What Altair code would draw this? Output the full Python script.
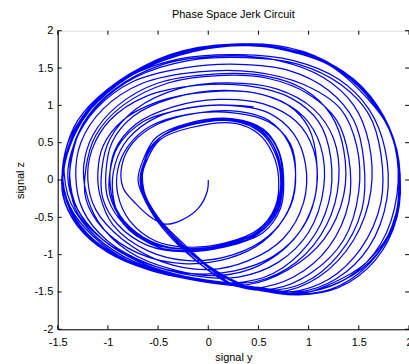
import altair as alt
import pandas as pd

# trajectory of the jerk circuit as (signal y, signal z)
start = [(0.0, 0.0), (-0.01, -0.15), (-0.1, -0.38), (-0.27, -0.54), (-0.43, -0.59),
         (-0.56, -0.51), (-0.72, -0.32), (-0.85, -0.1)]
loop_a = [(-0.86, 0.2), (-0.75, 0.5), (-0.5, 0.75), (-0.1, 0.9), (0.3, 0.92), (0.6, 0.8),
          (0.8, 0.5), (0.87, 0.1), (0.82, -0.35), (0.6, -0.75), (0.25, -1.0), (-0.2, -1.08),
          (-0.6, -0.95), (-0.95, -0.6), (-1.08, -0.2)]
loop_b = [(-1.1, 0.1), (-1.05, 0.45), (-0.85, 0.8), (-0.5, 1.05), (0.0, 1.18), (0.45, 1.17),
          (0.8, 1.0), (1.0, 0.7), (1.08, 0.25), (1.05, -0.3), (0.85, -0.8), (0.5, -1.15),
          (0.1, -1.28), (-0.35, -1.2), (-0.8, -0.95), (-1.1, -0.55), (-1.22, -0.15)]
loop_c = [(-1.24, 0.2), (-1.15, 0.6), (-0.9, 1.0), (-0.5, 1.3), (0.05, 1.42), (0.55, 1.4),
          (0.95, 1.22), (1.22, 0.88), (1.35, 0.4), (1.35, -0.2), (1.15, -0.8), (0.8, -1.2),
          (0.4, -1.4), (-0.1, -1.33), (-0.6, -1.15), (-1.0, -0.85), (-1.3, -0.45), (-1.38, -0.05)]
loop_d = [(-1.36, 0.3), (-1.25, 0.75), (-0.95, 1.2), (-0.45, 1.55), (0.15, 1.66), (0.7, 1.6),
          (1.15, 1.37), (1.45, 1.0), (1.6, 0.5), (1.62, -0.15), (1.45, -0.8), (1.1, -1.3),
          (0.7, -1.5), (0.3, -1.42), (-0.1, -1.35), (-0.6, -1.2), (-1.0, -0.95), (-1.3, -0.6),
          (-1.44, -0.15)]
loop_e = [(-1.45, 0.0), (-1.38, 0.45), (-1.2, 0.9), (-0.87, 1.33), (-0.38, 1.68), (0.25, 1.82),
          (0.69, 1.76), (1.19, 1.55), (1.58, 1.1), (1.81, 0.67), (1.91, 0.08), (1.85, -0.58),
          (1.58, -1.1), (1.19, -1.41), (0.89, -1.53), (0.52, -1.45), (0.2, -1.37), (-0.1, -1.1),
          (-0.4, -0.7), (-0.6, -0.35), (-0.68, 0.0)]
loop_f = [(-0.62, 0.3), (-0.5, 0.55), (-0.22, 0.72), (0.25, 0.79), (0.52, 0.64), (0.66, 0.38),
          (0.72, 0.05), (0.69, -0.36), (0.52, -0.67), (0.2, -0.85), (-0.2, -0.93), (-0.55, -0.85),
          (-0.85, -0.55), (-0.98, -0.2), (-0.98, 0.1)]
loop_g = [(-0.9, 0.45), (-0.65, 0.78), (-0.25, 0.95), (0.2, 1.0), (0.6, 0.9), (0.85, 0.62),
          (0.97, 0.2), (0.95, -0.3), (0.75, -0.78), (0.4, -1.08), (0.0, -1.2), (-0.45, -1.1),
          (-0.85, -0.8), (-1.12, -0.4), (-1.2, 0.0)]
loop_h = [(-1.16, 0.4), (-0.98, 0.8), (-0.62, 1.12), (-0.1, 1.27), (0.4, 1.26), (0.82, 1.1),
          (1.1, 0.78), (1.22, 0.3), (1.2, -0.3), (1.0, -0.85), (0.65, -1.25), (0.25, -1.38),
          (-0.2, -1.3), (-0.65, -1.12), (-1.05, -0.8), (-1.32, -0.35), (-1.4, 0.05)]
loop_i = [(-1.33, 0.5), (-1.12, 0.95), (-0.75, 1.32), (-0.25, 1.5), (0.3, 1.55), (0.8, 1.47),
          (1.2, 1.2), (1.45, 0.8), (1.55, 0.25), (1.53, -0.4), (1.3, -1.0), (0.95, -1.38),
          (0.55, -1.48), (0.2, -1.38), (-0.15, -1.05), (-0.45, -0.65), (-0.62, -0.3), (-0.7, 0.0)]
loop_j = [(-0.64, 0.3), (-0.52, 0.57), (-0.2, 0.76), (0.25, 0.82), (0.55, 0.68), (0.7, 0.4),
          (0.75, 0.05), (0.72, -0.38), (0.55, -0.7), (0.22, -0.88), (-0.15, -0.95), (-0.5, -0.9),
          (-0.82, -0.62), (-1.0, -0.25), (-1.02, 0.1)]
loop_k = [(-0.96, 0.5), (-0.75, 0.85), (-0.35, 1.1), (0.15, 1.2), (0.6, 1.12), (0.95, 0.85),
          (1.12, 0.45), (1.15, -0.1), (1.0, -0.7), (0.7, -1.1), (0.3, -1.3), (-0.15, -1.28),
          (-0.6, -1.12), (-1.0, -0.82), (-1.25, -0.4), (-1.32, 0.05)]
loop_l = [(-1.27, 0.5), (-1.05, 0.95), (-0.65, 1.3), (-0.1, 1.45), (0.45, 1.45), (0.95, 1.28),
          (1.32, 0.95), (1.48, 0.45), (1.5, -0.15), (1.35, -0.8), (1.02, -1.25), (0.65, -1.46),
          (0.3, -1.42), (-0.1, -1.35), (-0.6, -1.2), (-1.0, -0.97), (-1.3, -0.62), (-1.45, -0.2)]
loop_m = [(-1.44, 0.2), (-1.33, 0.65), (-1.1, 1.05), (-0.7, 1.45), (-0.15, 1.72), (0.4, 1.8),
          (0.9, 1.7), (1.35, 1.43), (1.68, 0.98), (1.86, 0.45), (1.88, -0.2), (1.72, -0.85),
          (1.4, -1.3), (1.0, -1.5), (0.6, -1.47), (0.25, -1.4), (-0.05, -1.12), (-0.38, -0.72),
          (-0.58, -0.38), (-0.67, -0.02)]
loop_n = [(-0.6, 0.3), (-0.48, 0.54), (-0.18, 0.7), (0.27, 0.76), (0.5, 0.62), (0.64, 0.36),
          (0.7, 0.04), (0.67, -0.35), (0.5, -0.66), (0.18, -0.84), (-0.2, -0.9), (-0.52, -0.82),
          (-0.78, -0.55), (-0.9, -0.2), (-0.9, 0.15)]
loop_p = [(-0.8, 0.45), (-0.58, 0.72), (-0.2, 0.88), (0.25, 0.9), (0.6, 0.78), (0.82, 0.48),
          (0.87, 0.05), (0.8, -0.4), (0.55, -0.82), (0.2, -1.05), (-0.25, -1.12), (-0.7, -0.98),
          (-1.05, -0.65), (-1.22, -0.25), (-1.22, 0.15)]
loop_q = [(-1.12, 0.6), (-0.85, 1.0), (-0.4, 1.3), (0.1, 1.4), (0.6, 1.36), (1.0, 1.15),
          (1.28, 0.8), (1.4, 0.3), (1.4, -0.3), (1.2, -0.9), (0.85, -1.3), (0.45, -1.45),
          (0.1, -1.37), (-0.35, -1.27), (-0.8, -1.08), (-1.15, -0.75), (-1.38, -0.35), (-1.45, 0.1)]
loop_r = [(-1.36, 0.55), (-1.16, 1.0), (-0.8, 1.38), (-0.3, 1.62), (0.3, 1.68), (0.85, 1.6),
          (1.3, 1.35), (1.6, 0.95), (1.76, 0.42), (1.78, -0.25), (1.6, -0.9), (1.28, -1.32),
          (0.9, -1.5), (0.5, -1.44), (0.2, -1.38), (-0.1, -1.32), (-0.55, -1.2), (-0.95, -0.98),
          (-1.25, -0.66), (-1.42, -0.25)]
loop_s = [(-1.45, 0.1), (-1.36, 0.55), (-1.16, 0.98), (-0.8, 1.38), (-0.3, 1.7), (0.3, 1.82),
          (0.8, 1.75), (1.28, 1.5), (1.63, 1.05), (1.84, 0.55), (1.9, -0.05), (1.82, -0.7),
          (1.52, -1.2), (1.1, -1.47), (0.75, -1.52), (0.4, -1.43), (0.0, -1.15), (-0.35, -0.75),
          (-0.57, -0.4), (-0.66, -0.05)]
loop_w = [(-0.64, 0.18), (-0.57, 0.45), (-0.35, 0.67), (0.05, 0.8), (0.42, 0.74), (0.62, 0.52),
          (0.71, 0.2), (0.71, -0.2), (0.6, -0.55), (0.35, -0.8), (0.0, -0.92), (-0.4, -0.9),
          (-0.72, -0.7), (-0.92, -0.38), (-0.98, 0.0)]
loop_x = [(-0.93, 0.4), (-0.72, 0.75), (-0.35, 0.98), (0.1, 1.08), (0.55, 1.02), (0.88, 0.78),
          (1.05, 0.4), (1.08, -0.1), (0.95, -0.62), (0.65, -1.02), (0.25, -1.22), (-0.2, -1.25),
          (-0.65, -1.1), (-1.05, -0.8), (-1.3, -0.4), (-1.38, 0.05)]
loop_y = [(-1.32, 0.55), (-1.1, 1.0), (-0.72, 1.38), (-0.2, 1.6), (0.38, 1.64), (0.9, 1.55),
          (1.32, 1.28), (1.6, 0.88), (1.72, 0.35), (1.72, -0.3), (1.52, -0.92), (1.2, -1.33),
          (0.82, -1.5), (0.45, -1.45), (0.15, -1.38), (-0.25, -1.3), (-0.7, -1.15), (-1.1, -0.88),
          (-1.36, -0.5), (-1.46, -0.05)]
loop_u = [(-1.42, 0.3), (-1.3, 0.75), (-1.05, 1.15), (-0.62, 1.52), (-0.05, 1.76), (0.5, 1.8),
          (1.0, 1.68), (1.45, 1.35), (1.75, 0.85), (1.9, 0.25), (1.87, -0.45), (1.65, -1.05),
          (1.3, -1.42), (0.92, -1.53), (0.55, -1.46), (0.2, -1.38), (-0.2, -1.3), (-0.65, -1.16),
          (-1.05, -0.9), (-1.33, -0.5), (-1.45, -0.05)]
loop_z = [(-1.43, 0.35), (-1.3, 0.8), (-1.0, 1.22), (-0.55, 1.58), (0.05, 1.78), (0.55, 1.82),
          (1.05, 1.67), (1.48, 1.3), (1.76, 0.8), (1.9, 0.2), (1.88, -0.5), (1.66, -1.08),
          (1.3, -1.44), (0.9, -1.54), (0.5, -1.47), (0.15, -1.3), (-0.2, -0.95), (-0.48, -0.55),
          (-0.63, -0.2), (-0.67, 0.05)]
loop_aa = [(-0.6, 0.35), (-0.45, 0.6), (-0.12, 0.77), (0.3, 0.8), (0.56, 0.65), (0.7, 0.38),
           (0.74, 0.02), (0.7, -0.4), (0.5, -0.72), (0.15, -0.9), (-0.25, -0.96), (-0.6, -0.88),
           (-0.9, -0.6), (-1.05, -0.25), (-1.06, 0.15)]
loop_bb = [(-0.98, 0.55), (-0.72, 0.95), (-0.3, 1.22), (0.2, 1.3), (0.68, 1.22), (1.05, 0.95),
           (1.25, 0.55), (1.3, 0.0), (1.18, -0.6), (0.88, -1.1), (0.48, -1.36), (0.05, -1.36),
           (-0.4, -1.25), (-0.85, -1.02), (-1.2, -0.65), (-1.4, -0.2)]
loop_v = [(-1.42, 0.4), (-1.25, 0.85), (-0.95, 1.25), (-0.5, 1.6), (0.1, 1.8), (0.6, 1.8),
          (1.1, 1.62), (1.5, 1.25), (1.78, 0.75), (1.9, 0.15), (1.86, -0.55), (1.62, -1.1),
          (1.25, -1.45), (0.85, -1.53), (0.45, -1.45), (0.1, -1.25), (-0.25, -0.85), (-0.5, -0.5),
          (-0.64, -0.15)]
loop_t = [(-0.63, 0.28), (-0.5, 0.55), (-0.2, 0.73), (0.26, 0.8), (0.53, 0.66), (0.68, 0.38),
          (0.73, 0.04), (0.7, -0.37), (0.53, -0.68), (0.2, -0.86), (-0.18, -0.92), (-0.55, -0.86),
          (-0.85, -0.58), (-0.95, -0.2), (-0.93, 0.2), (-0.8, 0.55), (-0.5, 0.85), (0.0, 1.0),
          (0.45, 0.98)]

segments = [start, loop_a, loop_b, loop_c, loop_d, loop_e, loop_f, loop_g, loop_h, loop_i,
            loop_j, loop_k, loop_l, loop_m, loop_n, loop_p, loop_q, loop_r, loop_s, loop_w,
            loop_x, loop_y, loop_u, loop_z, loop_aa, loop_bb, loop_v, loop_t]

x_ticks = [-1.5, -1, -0.5, 0, 0.5, 1, 1.5, 2]
y_ticks = [-2, -1.5, -1, -0.5, 0, 0.5, 1, 1.5, 2]

rows = []
for seg in segments:
    for (yv, zv) in seg:
        rows.append({"i": len(rows), "sy": yv, "sz": zv})
traj = pd.DataFrame(rows)
xt = pd.DataFrame({"t": x_ticks})
yt = pd.DataFrame({"t": y_ticks})

W, H = 353, 300
FONT = "Liberation Sans"

xs = alt.Scale(domain=[-1.5, 2], nice=False, zero=False)
ys = alt.Scale(domain=[-2, 2], nice=False, zero=False)

x_axis = alt.Axis(values=x_ticks, labelExpr="toString(datum.value)", ticks=False,
                  grid=False, domainColor="black", labelColor="black",
                  labelOverlap=False, labelFlush=False,
                  labelFont=FONT, labelFontSize=11, labelPadding=7,
                  titleFont=FONT, titleFontSize=11, titleFontWeight="normal",
                  titleColor="black", titlePadding=4)
y_axis = alt.Axis(values=y_ticks, labelExpr="toString(datum.value)", ticks=False,
                  grid=False, domainColor="black", labelColor="black",
                  labelOverlap=False, labelFlush=False,
                  labelFont=FONT, labelFontSize=11, labelPadding=5,
                  titleFont=FONT, titleFontSize=11, titleFontWeight="normal",
                  titleColor="black", titlePadding=8)

line = alt.Chart(traj).mark_line(
    color="#0000ff", strokeWidth=1.25, interpolate="catmull-rom", clip=True
).encode(
    x=alt.X("sy:Q", scale=xs, title="signal y", axis=x_axis),
    y=alt.Y("sz:Q", scale=ys, title="signal z", axis=y_axis),
    order="i:Q",
)

tick_bottom = alt.Chart(xt).mark_rule(color="black").encode(
    x=alt.X("t:Q", scale=xs, title="signal y", axis=x_axis),
    y=alt.value(H), y2=alt.value(H - 4))
tick_top = alt.Chart(xt).mark_rule(color="black").encode(
    x=alt.X("t:Q", scale=xs, title="signal y", axis=x_axis),
    y=alt.value(0), y2=alt.value(4))
tick_left = alt.Chart(yt).mark_rule(color="black").encode(
    y=alt.Y("t:Q", scale=ys, title="signal z", axis=y_axis),
    x=alt.value(0), x2=alt.value(4))
tick_right = alt.Chart(yt).mark_rule(color="black").encode(
    y=alt.Y("t:Q", scale=ys, title="signal z", axis=y_axis),
    x=alt.value(W), x2=alt.value(W - 4))

chart = alt.layer(line, tick_bottom, tick_top, tick_left, tick_right).properties(
    width=W, height=H,
    title=alt.TitleParams("Phase Space Jerk Circuit", font=FONT, fontSize=11,
                          fontWeight="normal", color="black", offset=5),
    autosize=alt.AutoSizeParams(type="none"),
    padding={"left": 58, "top": 30, "right": 0, "bottom": 34},
).configure_view(stroke="black", strokeWidth=1).configure(background="white")

chart.save("out.html", embed_options={"renderer": "svg", "actions": False})
